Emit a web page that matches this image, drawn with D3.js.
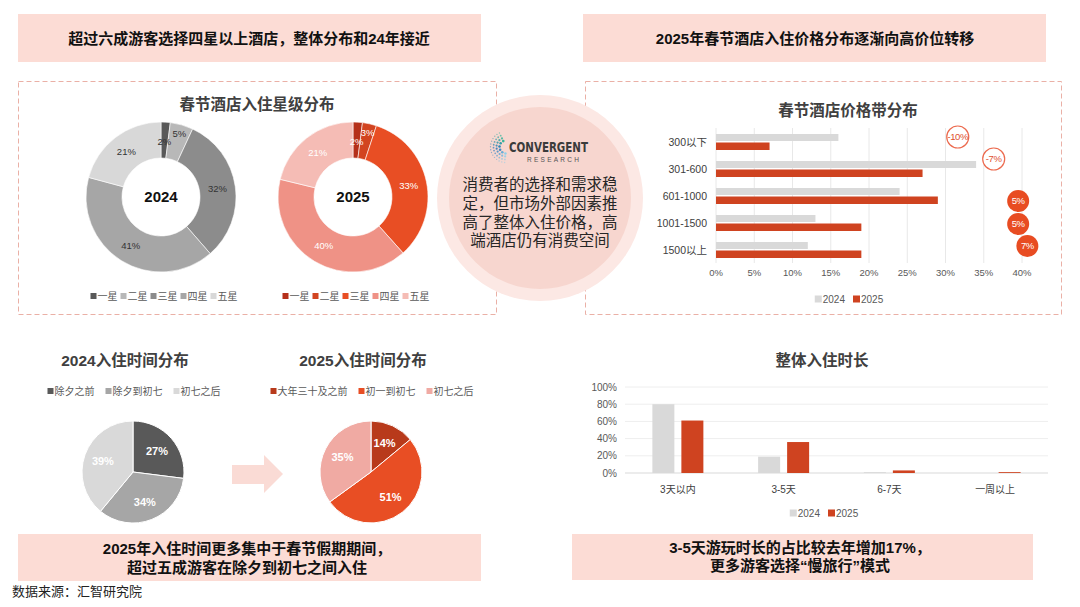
<!DOCTYPE html>
<html>
<head>
<meta charset="utf-8">
<script src="https://cdn.jsdelivr.net/npm/d3@7"></script>
<style>
  body { margin: 0; background: #fff; }
  svg { display: block; font-family: "Liberation Sans", "Noto Sans CJK SC", sans-serif; }
</style>
</head>
<body>
<svg id="chart" width="1080" height="607"></svg>
<script>
// ---- data ----
var starLevels = ["一星", "二星", "三星", "四星", "五星"];
var stars2024 = [2, 5, 32, 41, 21];
var stars2025 = [2, 3, 33, 40, 21];

var priceBands = ["300以下", "301-600", "601-1000", "1001-1500", "1500以上"];
var price2024 = [16, 34, 24, 13, 12];
var price2025 = [7, 27, 29, 19, 19];
var priceChange = ["-10%", "-7%", "5%", "5%", "7%"];
var priceTicks = [0, 5, 10, 15, 20, 25, 30, 35, 40];

var time2024Labels = ["除夕之前", "除夕到初七", "初七之后"];
var time2024 = [27, 34, 39];
var time2025Labels = ["大年三十及之前", "初一到初七", "初七之后"];
var time2025 = [14, 51, 35];

var stayLabels = ["3天以内", "3-5天", "6-7天", "一周以上"];
var stay2024 = [80, 19, 1, 0];
var stay2025 = [61, 36, 3, 1];
var stayTicks = [0, 20, 40, 60, 80, 100];

var years = ["2024", "2025"];

// where the change bubbles sit (x in % units, y offset inside the band)
var bubbleSpot = [[31.6, 9], [36.3, 4], [39.5, 19], [39.5, 15], [40.7, 10]];

var svg = d3.select("#chart");
var pink = "#fcdcd5",
    dashColor = "#eab0a6",
    red = "#cf4320",
    lightGray = "#d9d9d9",
    axisText = "#595959",
    titleText = "#404040";

function label(x, y, str, size, color, weight, anchor) {
  return svg.append("text")
    .attr("x", x).attr("y", y).attr("dy", "0.35em")
    .attr("font-size", size)
    .attr("fill", color)
    .attr("font-weight", weight || "normal")
    .attr("text-anchor", anchor || "middle")
    .text(str);
}

function legend(cx, cy, names, colors, size, gap, sq) {
  var g = svg.append("g");
  var x = 0;
  names.forEach(function(n, i) {
    g.append("rect").attr("x", x).attr("y", cy - sq / 2)
      .attr("width", sq).attr("height", sq).attr("fill", colors[i]);
    var t = g.append("text").attr("x", x + sq + 1).attr("y", cy).attr("dy", "0.35em")
      .attr("font-size", size).attr("fill", axisText).text(n);
    x += sq + 1 + t.node().getComputedTextLength() + gap;
  });
  g.attr("transform", "translate(" + (cx - (x - gap) / 2) + ",0)");
}

// ---- banners ----
function banner(x, y, w, h, lines, cx, ys) {
  svg.append("rect").attr("x", x).attr("y", y).attr("width", w).attr("height", h).attr("fill", pink);
  lines.forEach(function(l, i) {
    label(cx, ys[i], l, 15, "#111", "bold");
  });
}
banner(18, 14, 463, 48, ["超过六成游客选择四星以上酒店，整体分布和24年接近"], 249, [39]);
banner(583, 14, 463, 48, ["2025年春节酒店入住价格分布逐渐向高价位转移"], 815, [39]);
banner(18, 534, 463, 47, ["2025年入住时间更多集中于春节假期期间，", "超过五成游客在除夕到初七之间入住"], 247, [549, 568]);
banner(572, 534, 461, 46, ["3-5天游玩时长的占比较去年增加17%，", "更多游客选择“慢旅行”模式"], 800, [548, 566]);

label(12, 591, "数据来源：汇智研究院", 13, "#222", "normal", "start");

// dashed frames
svg.append("rect").attr("x", 18.5).attr("y", 81.5).attr("width", 478).attr("height", 233)
  .attr("fill", "none").attr("stroke", dashColor).attr("stroke-dasharray", "5,3");
svg.append("rect").attr("x", 585.5).attr("y", 81.5).attr("width", 476).attr("height", 233)
  .attr("fill", "none").attr("stroke", dashColor).attr("stroke-dasharray", "5,3");

// ---- star donuts ----
var colors2024 = ["#595959", "#b8b8b8", "#8c8c8c", "#a6a6a6", "#d8d8d8"];
var colors2025 = ["#b5301a", "#d24420", "#e84e24", "#ef9286", "#f5bcb5"];

label(257, 105, "春节酒店入住星级分布", 15.5, titleText, "bold");

function donut(cx, cy, values, colors, textColor, year) {
  var arcs = d3.pie().sort(null)(values);
  var arc = d3.arc().innerRadius(39).outerRadius(75);
  var g = svg.append("g").attr("transform", "translate(" + cx + "," + cy + ")");
  g.selectAll("path").data(arcs).enter().append("path")
    .attr("d", arc)
    .attr("fill", function(d, i) { return colors[i]; })
    .attr("stroke", "#fff").attr("stroke-width", 0.6);
  g.selectAll("text.v").data(arcs).enter().append("text")
    .attr("class", "v")
    .attr("transform", function(d, i) {
      // small slices: first label sits low, second one pushed outwards
      var r = 57;
      if (d.value <= 5) r = (i == 0) ? 55 : 66;
      var c = d3.arc().innerRadius(r).outerRadius(r).centroid(d);
      return "translate(" + c + ")";
    })
    .attr("dy", "0.35em").attr("text-anchor", "middle")
    .attr("font-size", 9.5).attr("fill", textColor)
    .text(function(d) { return d.value + "%"; });
  g.append("text").attr("dy", "0.35em").attr("text-anchor", "middle")
    .attr("font-size", 15).attr("font-weight", "bold").attr("fill", "#111").text(year);
}
donut(161, 197, stars2024, colors2024, "#333", "2024");
donut(353, 197, stars2025, colors2025, "#fff", "2025");
legend(164, 296, starLevels, colors2024, 10, 3, 6);
legend(356, 296, starLevels, colors2025, 10, 3, 6);

// ---- centre note circle ----
svg.append("circle").attr("cx", 540).attr("cy", 198).attr("r", 103).attr("fill", "#fce8e4");
svg.append("circle").attr("cx", 540).attr("cy", 198).attr("r", 91).attr("fill", "#f7d6cf");

// logo dots
var dotRings = [6.5, 9.5, 12.5, 15.5];
var dotColor = d3.scaleLinear().domain([0, 0.5, 1]).range(["#35b59a", "#2a78bd", "#8fd0ea"]);
dotRings.forEach(function(r, ri) {
  var n = 6 + ri * 3;
  for (var k = 0; k < n; k++) {
    var t = k / (n - 1);
    var a = (115 + t * 150) * Math.PI / 180;
    svg.append("circle")
      .attr("cx", 506 + r * Math.cos(-a))
      .attr("cy", 147 + r * Math.sin(-a))
      .attr("r", 1.3 - ri * 0.2)
      .attr("fill", dotColor(t))
      .attr("opacity", 1 - ri * 0.15);
  }
});
svg.append("text").attr("x", 509).attr("y", 152).attr("font-size", 14).attr("font-weight", "bold")
  .attr("font-family", "DejaVu Sans Condensed, Liberation Sans Narrow, sans-serif")
  .attr("textLength", 79).attr("lengthAdjust", "spacingAndGlyphs")
  .attr("fill", "#3b3b3b").text("CONVERGENT");
svg.append("text").attr("x", 527).attr("y", 161.5).attr("font-size", 6.5)
  .attr("textLength", 52).attr("lengthAdjust", "spacing")
  .attr("fill", "#555").text("RESEARCH");

var noteLines = ["消费者的选择和需求稳", "定，但市场外部因素推", "高了整体入住价格，高", "端酒店仍有消费空间"];
noteLines.forEach(function(l, i) {
  label(540, 185 + i * 18.6, l, 15.5, "#262626");
});

// ---- price band bars ----
label(848, 111, "春节酒店价格带分布", 15.5, titleText, "bold");

var px = d3.scaleLinear().domain([0, 40]).range([716, 1022]);
var py = d3.scaleBand().domain(priceBands).range([128, 263]);

svg.append("g").selectAll("line").data(priceTicks).enter().append("line")
  .attr("x1", function(d) { return px(d); }).attr("x2", function(d) { return px(d); })
  .attr("y1", 128).attr("y2", 263)
  .attr("stroke", "#e8e8e8");
svg.append("g").selectAll("text").data(priceTicks).enter().append("text")
  .attr("x", function(d) { return px(d); }).attr("y", 273).attr("dy", "0.35em")
  .attr("text-anchor", "middle").attr("font-size", 9.5).attr("fill", axisText)
  .text(function(d) { return d + "%"; });
svg.append("g").selectAll("text").data(priceBands).enter().append("text")
  .attr("x", 707).attr("y", function(d) { return py(d) + 14; }).attr("dy", "0.35em")
  .attr("text-anchor", "end").attr("font-size", 10.5).attr("fill", titleText)
  .text(function(d) { return d; });

svg.append("g").selectAll("rect").data(price2024).enter().append("rect")
  .attr("x", px(0)).attr("y", function(d, i) { return py(priceBands[i]) + 6; })
  .attr("width", function(d) { return px(d) - px(0); }).attr("height", 7)
  .attr("fill", lightGray);
svg.append("g").selectAll("rect").data(price2025).enter().append("rect")
  .attr("x", px(0)).attr("y", function(d, i) { return py(priceBands[i]) + 14.5; })
  .attr("width", function(d) { return px(d) - px(0); }).attr("height", 7.5)
  .attr("fill", red);

var bubbles = svg.append("g").selectAll("g").data(priceChange).enter().append("g")
  .attr("transform", function(d, i) {
    return "translate(" + px(bubbleSpot[i][0]) + "," + (py(priceBands[i]) + bubbleSpot[i][1]) + ")";
  });
bubbles.append("circle").attr("r", 11)
  .attr("fill", function(d) { return d.charAt(0) == "-" ? "#fff" : "#e84c22"; })
  .attr("stroke", function(d) { return d.charAt(0) == "-" ? "#ec6a4e" : "none"; })
  .attr("stroke-width", 1.2);
bubbles.append("text").attr("dy", "0.35em").attr("text-anchor", "middle")
  .attr("font-size", 9.5).attr("letter-spacing", -0.4)
  .attr("fill", function(d) { return d.charAt(0) == "-" ? "#e0502e" : "#fff"; })
  .text(function(d) { return d; });

legend(849, 299, years, [lightGray, red], 10, 8, 7);

// ---- check-in time pies ----
function pieChart(cx, cy, values, colors) {
  var arcs = d3.pie().sort(null)(values);
  var arc = d3.arc().innerRadius(0).outerRadius(51);
  var mid = d3.arc().innerRadius(32).outerRadius(32);
  var g = svg.append("g").attr("transform", "translate(" + cx + "," + cy + ")");
  g.selectAll("path").data(arcs).enter().append("path")
    .attr("d", arc)
    .attr("fill", function(d, i) { return colors[i]; })
    .attr("stroke", "#fff").attr("stroke-width", 1);
  g.selectAll("text").data(arcs).enter().append("text")
    .attr("transform", function(d) { return "translate(" + mid.centroid(d) + ")"; })
    .attr("dy", "0.35em").attr("text-anchor", "middle")
    .attr("font-size", 11).attr("font-weight", "bold").attr("fill", "#fff")
    .text(function(d) { return d.value + "%"; });
}
var timeColors2024 = ["#595959", "#a6a6a6", "#d9d9d9"];
var timeColors2025 = ["#b83a1b", "#e84e24", "#f0aaa3"];

label(125, 361, "2024入住时间分布", 15.5, titleText, "bold");
label(363, 361, "2025入住时间分布", 15.5, titleText, "bold");
legend(134, 391, time2024Labels, timeColors2024, 10, 11, 6);
legend(372, 391, time2025Labels, timeColors2025, 10, 11, 6);
pieChart(133, 472, time2024, timeColors2024);
pieChart(371, 472, time2025, timeColors2025);

// arrow between the pies
svg.append("path")
  .attr("d", "M232,465 L264,465 L264,455 L283,474 L264,493 L264,484 L232,484 Z")
  .attr("fill", "#fadbd5");

// ---- length of stay bars ----
label(822, 361, "整体入住时长", 15.5, titleText, "bold");

var sx = d3.scaleBand().domain(stayLabels).range([625, 1048]);
var sy = d3.scaleLinear().domain([0, 100]).range([473, 387]);

svg.append("g").selectAll("line").data(stayTicks).enter().append("line")
  .attr("x1", 625).attr("x2", 1048)
  .attr("y1", function(d) { return sy(d); }).attr("y2", function(d) { return sy(d); })
  .attr("stroke", function(d) { return d == 0 ? "#d9d9d9" : "#eeeeee"; });
svg.append("g").selectAll("text").data(stayTicks).enter().append("text")
  .attr("x", 617).attr("y", function(d) { return sy(d); }).attr("dy", "0.35em")
  .attr("text-anchor", "end").attr("font-size", 10).attr("fill", axisText)
  .text(function(d) { return d + "%"; });
svg.append("g").selectAll("text").data(stayLabels).enter().append("text")
  .attr("x", function(d) { return sx(d) + sx.bandwidth() / 2; }).attr("y", 489).attr("dy", "0.35em")
  .attr("text-anchor", "middle").attr("font-size", 10).attr("fill", titleText)
  .text(function(d) { return d; });

svg.append("g").selectAll("rect").data(stay2024).enter().append("rect")
  .attr("x", function(d, i) { return sx(stayLabels[i]) + sx.bandwidth() / 2 - 25.5; })
  .attr("y", function(d) { return sy(d); })
  .attr("width", 22).attr("height", function(d) { return sy(0) - sy(d); })
  .attr("fill", lightGray);
svg.append("g").selectAll("rect").data(stay2025).enter().append("rect")
  .attr("x", function(d, i) { return sx(stayLabels[i]) + sx.bandwidth() / 2 + 3.5; })
  .attr("y", function(d) { return sy(d); })
  .attr("width", 22).attr("height", function(d) { return sy(0) - sy(d); })
  .attr("fill", red);

legend(824, 513, years, [lightGray, red], 10, 8, 7);
</script>
</body>
</html>
